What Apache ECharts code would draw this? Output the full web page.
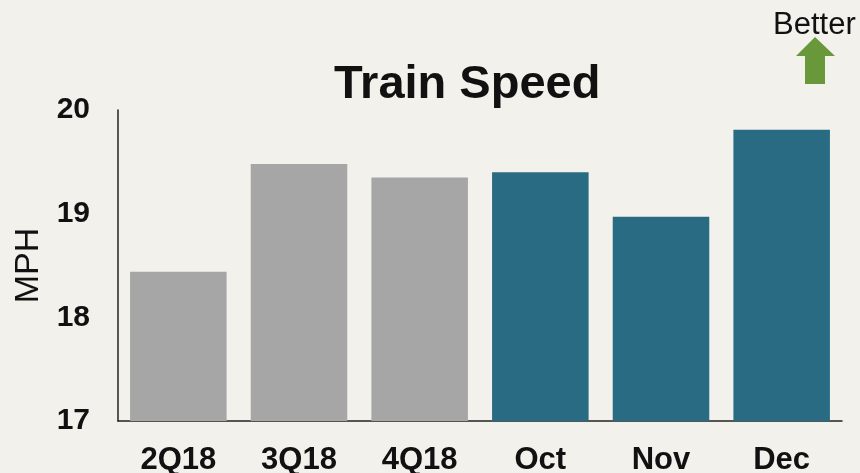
<!DOCTYPE html>
<html>
<head>
<meta charset="utf-8">
<script src="https://cdn.jsdelivr.net/npm/echarts@6/dist/echarts.min.js"></script>
<style>
  html, body { margin: 0; padding: 0; background: #f2f1ec; }
  #chart { width: 860px; height: 473px; }
</style>
</head>
<body>
<div id="chart"></div>
<script>
// Train speed, MPH
const categories = ["2Q18", "3Q18", "4Q18", "Oct", "Nov", "Dec"];
const speedValues = [18.44, 19.48, 19.35, 19.4, 18.97, 19.81];
const barColors = ["#a6a6a6", "#a6a6a6", "#a6a6a6", "#2a6b84", "#2a6b84", "#2a6b84"];

const FONT = "Liberation Sans, Arial, sans-serif";

const chart = echarts.init(document.getElementById("chart"), null, { renderer: "canvas" });

chart.setOption({
  backgroundColor: "#f2f1ec",
  animation: false,
  title: {
    text: "Train Speed",
    left: 329,
    top: 57,
    textStyle: { fontFamily: FONT, fontSize: 47, fontWeight: "bold", color: "#111" },
  },
  grid: { left: 118, right: 18, top: 110, bottom: 52, containLabel: false, outerBoundsMode: "none" },
  xAxis: {
    type: "category",
    data: categories,
    axisLine: { lineStyle: { color: "#222", width: 1.5 } },
    axisTick: { show: false },
    axisLabel: { color: "#111", fontFamily: FONT, fontSize: 31, fontWeight: "bold", margin: 24 },
  },
  yAxis: {
    type: "value",
    min: 17,
    max: 20,
    interval: 1,
    name: "MPH",
    nameLocation: "middle",
    nameGap: 69,
    nameRotate: 90,
    nameTextStyle: { fontFamily: FONT, fontSize: 34, color: "#111" },
    axisLine: { show: true, lineStyle: { color: "#222", width: 1.5 } },
    axisTick: { show: false },
    splitLine: { show: false },
    axisLabel: { color: "#111", fontFamily: FONT, fontSize: 30, fontWeight: "bold", margin: 28 },
  },
  series: [
    {
      type: "bar",
      barWidth: "80%",
      data: speedValues.map((v, i) => ({ value: v, itemStyle: { color: barColors[i] } })),
    },
  ],
  graphic: [
    {
      type: "text",
      left: 773,
      top: 10,
      style: { text: "Better", fontFamily: FONT, fontSize: 31, fill: "#111" },
    },
    {
      type: "polygon",
      shape: {
        points: [[815, 37], [835, 56], [825, 56], [825, 84], [805, 84], [805, 56], [796, 56]],
      },
      style: { fill: "#69983b" },
    },
  ],
});
</script>
</body>
</html>
